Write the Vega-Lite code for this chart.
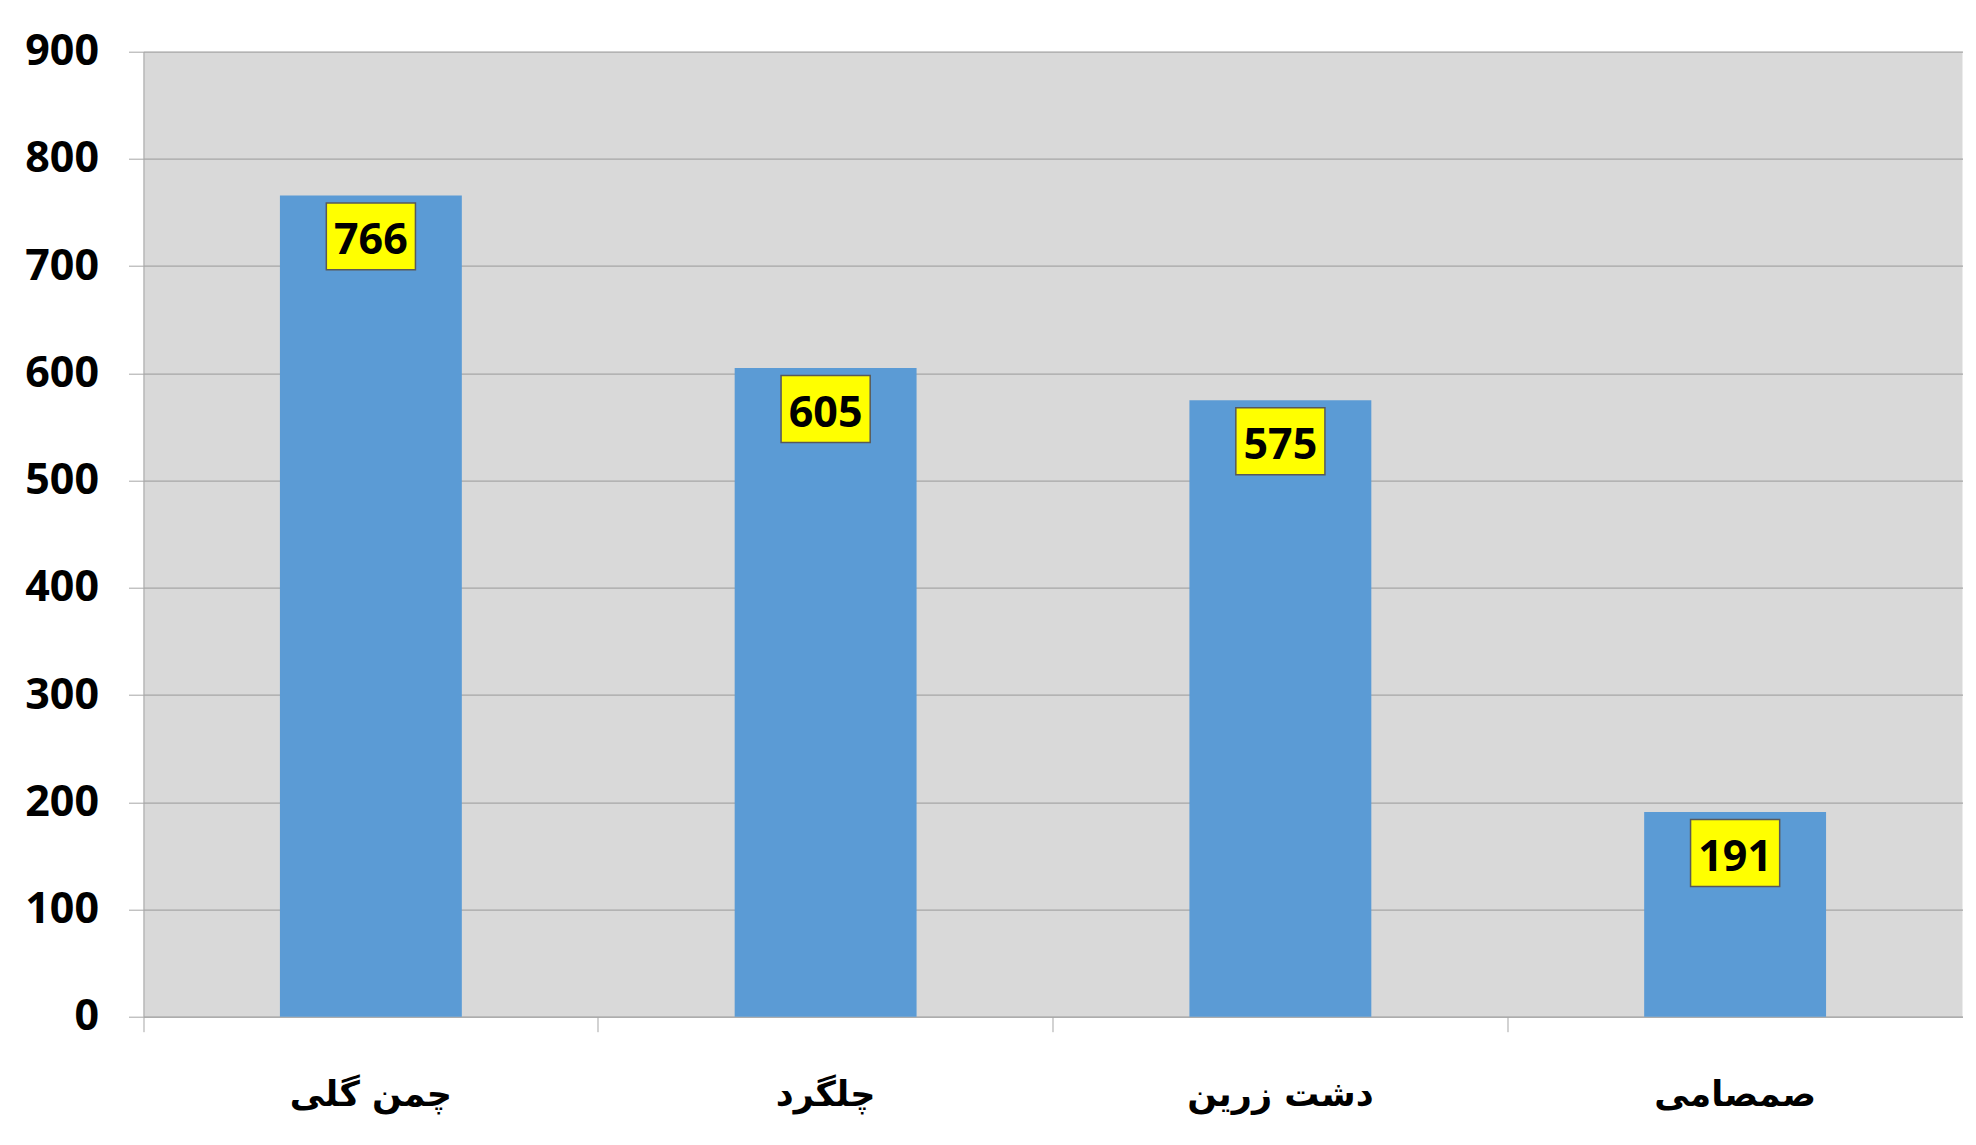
{
  "$schema": "https://vega.github.io/schema/vega-lite/v6.json",
  "autosize": "none",
  "width": 1819,
  "height": 965,
  "padding": {"left": 143.5, "top": 51.7, "right": 13.5, "bottom": 128},
  "background": "#FFFFFF",
  "data": {
    "values": [
      {"region": "چمن گلی", "value": 766},
      {"region": "چلگرد", "value": 605},
      {"region": "دشت زرین", "value": 575},
      {"region": "صمصامی", "value": 191}
    ]
  },
  "encoding": {
    "x": {
      "field": "region",
      "type": "nominal",
      "sort": null,
      "scale": {"paddingInner": 0, "paddingOuter": 0},
      "axis": {
        "title": null,
        "labelAngle": 0,
        "bandPosition": 0,
        "tickSize": 15,
        "tickColor": "#A6A6A6",
        "domainColor": "#A6A6A6",
        "grid": false,
        "labelFont": "DejaVu Sans",
        "labelFontWeight": "bold",
        "labelFontSize": 35,
        "labelColor": "#000000",
        "labelBaseline": "middle",
        "labelLimit": 0,
        "labelPadding": 63
      }
    },
    "y": {
      "field": "value",
      "type": "quantitative",
      "scale": {"domain": [0, 900], "nice": false},
      "axis": {
        "title": null,
        "values": [0, 100, 200, 300, 400, 500, 600, 700, 800, 900],
        "tickSize": 15,
        "tickColor": "#A6A6A6",
        "domainColor": "#A6A6A6",
        "gridColor": "#A6A6A6",
        "gridWidth": 1.3,
        "labelFont": "Open Sans",
        "labelFontWeight": "bold",
        "labelFontSize": 43,
        "labelColor": "#000000",
        "labelPadding": 30
      }
    }
  },
  "layer": [
    {
      "mark": {"type": "bar", "color": "#5B9BD5", "width": {"band": 0.4}}
    },
    {
      "mark": {
        "type": "point",
        "shape": "M-1.33,-1L1.33,-1L1.33,1L-1.33,1Z",
        "size": 4489,
        "filled": true,
        "fill": "#FFFF00",
        "stroke": "#595959",
        "strokeWidth": 1.5,
        "opacity": 1,
        "yOffset": 41
      }
    },
    {
      "mark": {
        "type": "text",
        "font": "Open Sans",
        "fontWeight": "bold",
        "fontSize": 43,
        "color": "#000000",
        "baseline": "middle",
        "align": "center",
        "yOffset": 46
      },
      "encoding": {"text": {"field": "value", "type": "quantitative"}}
    }
  ],
  "config": {
    "view": {"stroke": null, "fill": "#D9D9D9"}
  }
}
